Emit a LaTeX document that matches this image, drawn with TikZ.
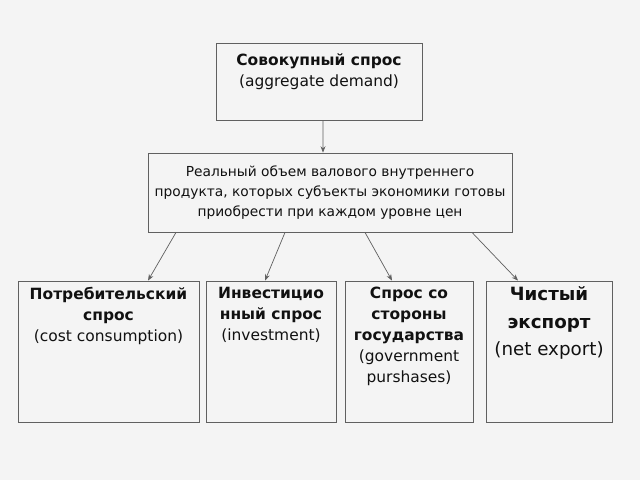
\documentclass[tikz,border=0pt]{standalone}
\usepackage{fontspec}
\setmainfont{DejaVu Sans}
\usetikzlibrary{positioning,arrows.meta}
\definecolor{bgcol}{HTML}{F4F4F4}
\definecolor{linecol}{HTML}{606060}
\definecolor{txtcol}{HTML}{111111}
\begin{document}
\begin{tikzpicture}[
  box/.style={rectangle, draw=linecol, line width=0.6pt, fill=bgcol, inner sep=0pt},
  boxtxt/.style={align=center, text=txtcol, inner sep=0pt},
  conn/.style={->, draw=linecol, line width=0.5pt, >={Stealth[length=4.5pt,width=3.5pt]}},
  font=\fontsize{9.8}{14}\selectfont
]
\fill[bgcol] (0,0) rectangle (16,-12);
\useasboundingbox (0,0) rectangle (16,-12);

% top level
\node[box, minimum width=5.15cm, minimum height=1.925cm] (agg) at (7.975,-2.0375) {};
\node[boxtxt, below=0.26cm of agg.north, font=\fontsize{11}{15.5}\selectfont] (aggtxt)
  {\textbf{Совокупный спрос}\\(aggregate demand)};

% definition
\node[box, boxtxt, minimum width=9.1cm, minimum height=1.975cm] (real) at (8.25,-4.8125)
  {Реальный объем валового внутреннего\\продукта, которых субъекты экономики готовы\\приобрести при каждом уровне цен};

% components
\node[box, minimum width=4.525cm, minimum height=3.525cm] (cons) at (2.7125,-8.7875) {};
\node[box, minimum width=3.25cm, minimum height=3.525cm] (inv) at (6.775,-8.7875) {};
\node[box, minimum width=3.2cm, minimum height=3.525cm] (gov) at (10.225,-8.7875) {};
\node[box, minimum width=3.15cm, minimum height=3.525cm] (nx) at (13.725,-8.7875) {};

\node[boxtxt, below=0.15cm of cons.north, font=\fontsize{11}{15}\selectfont] (constxt)
  {\textbf{Потребительский}\\\textbf{спрос}\\(cost consumption)};
\node[boxtxt, below=0.15cm of inv.north, font=\fontsize{11}{15}\selectfont] (invtxt)
  {\textbf{Инвестицио}\\\textbf{нный спрос}\\(investment)};
\node[boxtxt, below=0.15cm of gov.north, font=\fontsize{11}{15}\selectfont] (govtxt)
  {\textbf{Спрос со}\\\textbf{стороны}\\\textbf{государства}\\(government\\purshases)};
\node[boxtxt, below=0.15cm of nx.north, font=\fontsize{13}{19.5}\selectfont] (nxtxt)
  {\textbf{Чистый}\\\textbf{экспорт}\\(net export)};

\draw[conn] ([xshift=0.1cm]agg.south) -- ([xshift=-0.175cm]real.north);
\draw[conn] ([xshift=-3.85cm]real.south) -- ([xshift=0.9875cm]cons.north);
\draw[conn] ([xshift=-1.125cm]real.south) -- ([xshift=-0.15cm]inv.north);
\draw[conn] ([xshift=0.875cm]real.south) -- ([xshift=-0.425cm]gov.north);
\draw[conn] ([xshift=3.55cm]real.south) -- ([xshift=-0.775cm]nx.north);
\end{tikzpicture}
\end{document}
